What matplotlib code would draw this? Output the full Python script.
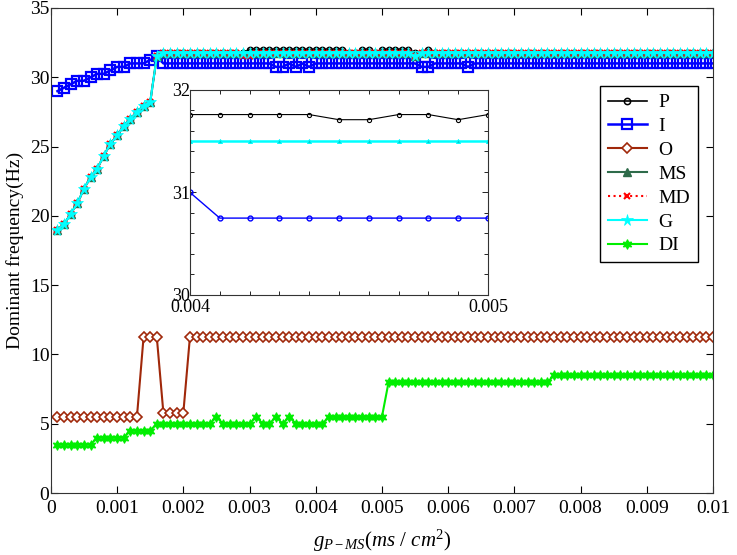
import numpy as np
import matplotlib
matplotlib.use('Agg')
import matplotlib.pyplot as plt
from matplotlib.ticker import MultipleLocator

# coupling strength g_P-MS, 100 samples
g = np.linspace(0.0001, 0.01, 100)

P = [19.0, 19.4, 20.15, 20.9, 21.95, 22.8, 23.4, 24.35, 25.2, 25.8,
     26.5, 27.0, 27.5, 27.95, 28.2, 31.5, 31.75, 31.75, 31.75, 31.75,
     31.75, 31.75, 31.75, 31.75, 31.75, 31.75, 31.75, 31.75, 31.75, 32.0,
     32.0, 32.0, 32.0, 32.0, 32.0, 32.0, 32.0, 32.0, 32.0, 32.0,
     32.0, 32.0, 32.0, 32.0, 31.75, 31.75, 32.0, 32.0, 31.75, 32.0,
     32.0, 32.0, 32.0, 32.0, 31.75, 31.75, 32.0, 31.75, 31.75, 31.75,
     31.75, 31.75, 31.75, 31.75, 31.75, 31.75, 31.75, 31.75, 31.75, 31.75,
     31.75, 31.75, 31.75, 31.75, 31.75, 31.75, 31.75, 31.75, 31.75, 31.75,
     31.75, 31.75, 31.75, 31.75, 31.75, 31.75, 31.75, 31.75, 31.75, 31.75,
     31.75, 31.75, 31.75, 31.75, 31.75, 31.75, 31.75, 31.75, 31.75, 31.75]

I = [29.0, 29.25, 29.5, 29.75, 29.75, 30.0, 30.25, 30.25, 30.5, 30.75,
     30.75, 31.0, 31.0, 31.0, 31.25, 31.5, 31.0, 31.0, 31.0, 31.0,
     31.0, 31.0, 31.0, 31.0, 31.0, 31.0, 31.0, 31.0, 31.0, 31.0,
     31.0, 31.0, 31.0, 30.75, 30.75, 31.0, 30.75, 31.0, 30.75, 31.0,
     31.0, 31.0, 31.0, 31.0, 31.0, 31.0, 31.0, 31.0, 31.0, 31.0,
     31.0, 31.0, 31.0, 31.0, 31.0, 30.75, 30.75, 31.0, 31.0, 31.0,
     31.0, 31.0, 30.75, 31.0, 31.0, 31.0, 31.0, 31.0, 31.0, 31.0,
     31.0, 31.0, 31.0, 31.0, 31.0, 31.0, 31.0, 31.0, 31.0, 31.0,
     31.0, 31.0, 31.0, 31.0, 31.0, 31.0, 31.0, 31.0, 31.0, 31.0,
     31.0, 31.0, 31.0, 31.0, 31.0, 31.0, 31.0, 31.0, 31.0, 31.0]

O = [5.5, 5.5, 5.5, 5.5, 5.5, 5.5, 5.5, 5.5, 5.5, 5.5,
     5.5, 5.5, 5.5, 11.25, 11.25, 11.25, 5.75, 5.75, 5.75, 5.75,
     11.25, 11.25, 11.25, 11.25, 11.25, 11.25, 11.25, 11.25, 11.25, 11.25,
     11.25, 11.25, 11.25, 11.25, 11.25, 11.25, 11.25, 11.25, 11.25, 11.25,
     11.25, 11.25, 11.25, 11.25, 11.25, 11.25, 11.25, 11.25, 11.25, 11.25,
     11.25, 11.25, 11.25, 11.25, 11.25, 11.25, 11.25, 11.25, 11.25, 11.25,
     11.25, 11.25, 11.25, 11.25, 11.25, 11.25, 11.25, 11.25, 11.25, 11.25,
     11.25, 11.25, 11.25, 11.25, 11.25, 11.25, 11.25, 11.25, 11.25, 11.25,
     11.25, 11.25, 11.25, 11.25, 11.25, 11.25, 11.25, 11.25, 11.25, 11.25,
     11.25, 11.25, 11.25, 11.25, 11.25, 11.25, 11.25, 11.25, 11.25, 11.25]

MS = [19.0, 19.4, 20.15, 20.9, 21.95, 22.8, 23.4, 24.35, 25.2, 25.8,
      26.5, 27.0, 27.5, 27.95, 28.2, 31.5, 31.75, 31.75, 31.75, 31.75,
      31.75, 31.75, 31.75, 31.75, 31.75, 31.75, 31.75, 31.75, 31.75, 31.75,
      31.75, 31.75, 31.75, 31.75, 31.75, 31.75, 31.75, 31.75, 31.75, 31.75,
      31.75, 31.75, 31.75, 31.75, 31.75, 31.75, 31.75, 31.75, 31.75, 31.75,
      31.75, 31.75, 31.75, 31.75, 31.5, 31.75, 31.75, 31.75, 31.75, 31.75,
      31.75, 31.75, 31.75, 31.75, 31.75, 31.75, 31.75, 31.75, 31.75, 31.75,
      31.75, 31.75, 31.75, 31.75, 31.75, 31.75, 31.75, 31.75, 31.75, 31.75,
      31.75, 31.75, 31.75, 31.75, 31.75, 31.75, 31.75, 31.75, 31.75, 31.75,
      31.75, 31.75, 31.75, 31.75, 31.75, 31.75, 31.75, 31.75, 31.75, 31.75]

MD = [19.0, 19.4, 20.15, 20.9, 21.95, 22.8, 23.4, 24.35, 25.2, 25.8,
      26.5, 27.0, 27.5, 27.95, 28.2, 31.5, 31.75, 31.75, 31.75, 31.75,
      31.75, 31.75, 31.75, 31.75, 31.75, 31.75, 31.75, 31.75, 31.5, 31.5,
      31.75, 31.75, 31.75, 31.75, 31.75, 31.75, 31.75, 31.75, 31.75, 31.75,
      31.75, 31.75, 31.75, 31.75, 31.75, 31.75, 31.75, 31.75, 31.75, 31.75,
      31.75, 31.75, 31.75, 31.75, 31.5, 31.75, 31.75, 31.75, 31.75, 31.75,
      31.75, 31.75, 31.75, 31.75, 31.75, 31.75, 31.75, 31.75, 31.75, 31.75,
      31.75, 31.75, 31.75, 31.75, 31.75, 31.75, 31.75, 31.75, 31.75, 31.75,
      31.75, 31.75, 31.75, 31.75, 31.75, 31.75, 31.75, 31.75, 31.75, 31.75,
      31.75, 31.75, 31.75, 31.75, 31.75, 31.75, 31.75, 31.75, 31.75, 31.75]

G = [19.0, 19.4, 20.15, 20.9, 21.95, 22.8, 23.4, 24.35, 25.2, 25.8,
     26.5, 27.0, 27.5, 27.95, 28.2, 31.5, 31.75, 31.75, 31.75, 31.75,
     31.75, 31.75, 31.75, 31.75, 31.75, 31.75, 31.75, 31.75, 31.75, 31.75,
     31.75, 31.75, 31.75, 31.75, 31.75, 31.75, 31.75, 31.75, 31.75, 31.75,
     31.75, 31.75, 31.75, 31.75, 31.75, 31.75, 31.75, 31.75, 31.75, 31.75,
     31.75, 31.75, 31.75, 31.75, 31.5, 31.75, 31.75, 31.75, 31.75, 31.75,
     31.75, 31.75, 31.75, 31.75, 31.75, 31.75, 31.75, 31.75, 31.75, 31.75,
     31.75, 31.75, 31.75, 31.75, 31.75, 31.75, 31.75, 31.75, 31.75, 31.75,
     31.75, 31.75, 31.75, 31.75, 31.75, 31.75, 31.75, 31.75, 31.75, 31.75,
     31.75, 31.75, 31.75, 31.75, 31.75, 31.75, 31.75, 31.75, 31.75, 31.75]

DI = [3.5, 3.5, 3.5, 3.5, 3.5, 3.5, 4.0, 4.0, 4.0, 4.0,
      4.0, 4.5, 4.5, 4.5, 4.5, 5.0, 5.0, 5.0, 5.0, 5.0,
      5.0, 5.0, 5.0, 5.0, 5.5, 5.0, 5.0, 5.0, 5.0, 5.0,
      5.5, 5.0, 5.0, 5.5, 5.0, 5.5, 5.0, 5.0, 5.0, 5.0,
      5.0, 5.5, 5.5, 5.5, 5.5, 5.5, 5.5, 5.5, 5.5, 5.5,
      8.0, 8.0, 8.0, 8.0, 8.0, 8.0, 8.0, 8.0, 8.0, 8.0,
      8.0, 8.0, 8.0, 8.0, 8.0, 8.0, 8.0, 8.0, 8.0, 8.0,
      8.0, 8.0, 8.0, 8.0, 8.0, 8.5, 8.5, 8.5, 8.5, 8.5,
      8.5, 8.5, 8.5, 8.5, 8.5, 8.5, 8.5, 8.5, 8.5, 8.5,
      8.5, 8.5, 8.5, 8.5, 8.5, 8.5, 8.5, 8.5, 8.5, 8.5]

# inset: zoom on 0.004 - 0.005
g_in = [0.0040, 0.0041, 0.0042, 0.0043, 0.0044, 0.0045,
        0.0046, 0.0047, 0.0048, 0.0049, 0.0050]
P_in = [31.76, 31.76, 31.76, 31.76, 31.76, 31.71, 31.71, 31.76, 31.76, 31.71, 31.76]
G_in = [31.5, 31.5, 31.5, 31.5, 31.5, 31.5, 31.5, 31.5, 31.5, 31.5, 31.5]
I_in = [31.0, 30.75, 30.75, 30.75, 30.75, 30.75, 30.75, 30.75, 30.75, 30.75, 30.75]

xticks = [0, 0.001, 0.002, 0.003, 0.004, 0.005, 0.006, 0.007, 0.008, 0.009, 0.01]
xticklabels = ['0', '0.001', '0.002', '0.003', '0.004', '0.005',
               '0.006', '0.007', '0.008', '0.009', '0.01']

plt.rcParams['font.family'] = 'Liberation Serif'
plt.rcParams['font.size'] = 14
plt.rcParams['mathtext.fontset'] = 'custom'
plt.rcParams['mathtext.rm'] = 'Liberation Serif'
plt.rcParams['mathtext.it'] = 'Liberation Serif:italic'
plt.rcParams['xtick.direction'] = 'in'
plt.rcParams['ytick.direction'] = 'in'

fig = plt.figure(figsize=(7.37, 5.55), dpi=100)
ax = fig.add_axes([0.069, 0.1117, 0.8985, 0.8739])

ax.plot(g, P, color='k', lw=1.2, marker='o', ms=4.5, mfc='none', mew=1.1, label='P')
ax.plot(g, I, color='#0000FF', lw=1.8, marker='s', ms=6.5, mfc='none', mew=1.6, label='I')
ax.plot(g, O, color='#A0280A', lw=1.5, marker='D', ms=5, mfc='white', mew=1.2, label='O')
ax.plot(g, MS, color='#2E6B4A', lw=1.5, marker='^', ms=5.5, mfc='#2E6B4A', mew=1.0, label='MS')
ax.plot(g, MD, color='#FF0000', lw=1.5, ls=':', marker='x', ms=4.5, mew=1.5, label='MD')
ax.plot(g, G, color='#00FFFF', lw=1.5, marker='*', ms=8.5, mfc='#00FFFF', mew=0.5, label='G')
ax.plot(g, DI, color='#00EE00', lw=1.5, marker=(6, 1, 0), ms=7, mfc='#00EE00', mew=0.8, label='DI')

ax.set_xlim(0, 0.01)
ax.set_ylim(0, 35)
ax.set_xticks(xticks)
ax.set_xticklabels(xticklabels)
ax.set_yticks([0, 5, 10, 15, 20, 25, 30, 35])
ax.tick_params(top=True, right=True, length=5, width=0.8, pad=5)
ax.tick_params(axis='y', pad=1)
for s in ax.spines.values():
    s.set_color('#333333')

ax.set_xlabel(r'$g_{P-MS}(ms\ /\ cm^2)$', fontsize=15, labelpad=8)
ax.set_ylabel('Dominant frequency(Hz)', labelpad=4)

leg = ax.legend(loc='upper right', bbox_to_anchor=(0.977, 0.839), borderaxespad=0,
                fancybox=False, framealpha=1, edgecolor='k', handlelength=2.0,
                handletextpad=0.6, borderpad=0.4, labelspacing=0.32, fontsize=14)
leg.get_frame().set_linewidth(1.0)

# inset axes
axin = fig.add_axes([0.2578, 0.4685, 0.4043, 0.3694])
axin.plot(g_in, P_in, color='k', lw=0.8, marker='o', ms=3, mfc='none', mew=0.8)
axin.plot(g_in, G_in, color='#00FFFF', lw=1.8, marker='^', ms=3, mfc='#00CCCC', mew=0.6)
axin.plot(g_in, I_in, color='#0000FF', lw=1.0, marker='o', ms=3.5, mfc='none', mew=1.0)
axin.set_xlim(0.004, 0.005)
axin.set_ylim(30, 32)
axin.set_xticks([0.004, 0.005])
axin.set_xticklabels(['0.004', '0.005'])
axin.xaxis.set_minor_locator(MultipleLocator(0.0001))
axin.set_yticks([30, 31, 32])
axin.yaxis.set_minor_locator(MultipleLocator(0.2))
axin.tick_params(which='both', top=True, right=True, labelsize=13)
axin.tick_params(which='major', length=4, width=0.6, pad=3)
axin.tick_params(which='minor', length=3, width=0.6)
axin.tick_params(axis='y', pad=0)
for s in axin.spines.values():
    s.set_color('#333333')

fig.savefig('out.png', dpi=100)
